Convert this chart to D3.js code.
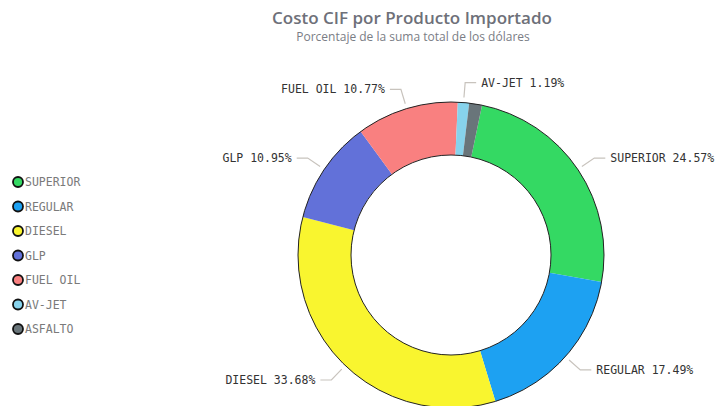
<!DOCTYPE html>
<html>
<head>
<meta charset="utf-8">
<script src="https://cdn.jsdelivr.net/npm/d3@7"></script>
<style>
  body { margin: 0; background: #fff; }
</style>
</head>
<body>
<svg id="chart" width="716" height="406"></svg>
<script>
// values
var products = ["SUPERIOR", "REGULAR", "DIESEL", "GLP", "FUEL OIL", "AV-JET", "ASFALTO"];
var percents = [24.57, 17.49, 33.68, 10.95, 10.77, 1.19, 1.35];
var colors = ["#34d963", "#1da1f2", "#f9f52f", "#6271d9", "#f98080", "#87d3ec", "#69757a"];
var hiddenLabels = ["ASFALTO"];

var svg = d3.select("#chart");
var cx = 451, cy = 255;
var outerR = 153, innerR = 100;
var startA = 11.7 * Math.PI / 180;

var data = products.map(function(p, i) {
    return { name: p, value: percents[i], color: colors[i] };
});

var pie = d3.pie()
    .sort(null)
    .value(function(d) { return d.value; })
    .startAngle(startA)
    .endAngle(startA + 2 * Math.PI);

var arc = d3.arc().innerRadius(innerR).outerRadius(outerR);

// title
svg.append("text")
    .attr("x", 412)
    .attr("y", 24)
    .attr("text-anchor", "middle")
    .attr("font-family", "'Open Sans', sans-serif")
    .attr("font-size", "17px")
    .attr("font-weight", "600")
    .attr("fill", "#6e7079")
    .text("Costo CIF por Producto Importado");
svg.append("text")
    .attr("x", 413)
    .attr("y", 41)
    .attr("text-anchor", "middle")
    .attr("font-family", "'Open Sans', sans-serif")
    .attr("font-size", "12px")
    .attr("fill", "#7a7d85")
    .text("Porcentaje de la suma total de los dólares");

// donut
var g = svg.append("g").attr("transform", "translate(" + cx + "," + cy + ")");
var arcs = pie(data);
g.selectAll("path").data(arcs).enter()
    .append("path")
    .attr("d", arc)
    .attr("fill", function(d) { return d.data.color; });
// dark rims
g.append("circle").attr("r", outerR).attr("fill", "none").attr("stroke", "#222").attr("stroke-width", 1);
g.append("circle").attr("r", innerR).attr("fill", "none").attr("stroke", "#222").attr("stroke-width", 1);

// labels with leader lines
arcs.forEach(function(d) {
    if (hiddenLabels.indexOf(d.data.name) >= 0) return;
    var mid = (d.startAngle + d.endAngle) / 2;
    var s = Math.sin(mid), c = -Math.cos(mid);
    var p1 = [s * 158, c * 158];
    var p2 = [s * 173, c * 173];
    var dir = s >= 0 ? 1 : -1;
    var p3 = [p2[0] + dir * 11, p2[1]];
    g.append("polyline")
        .attr("points", [p1, p2, p3].map(function(p) { return p.join(","); }).join(" "))
        .attr("fill", "none")
        .attr("stroke", "#c8c3bd")
        .attr("stroke-width", 1.2);
    g.append("text")
        .attr("x", p3[0] + dir * 5)
        .attr("y", p3[1])
        .attr("dy", "0.35em")
        .attr("text-anchor", dir > 0 ? "start" : "end")
        .attr("font-family", "'DejaVu Sans Mono', monospace")
        .attr("font-size", "11.5px")
        .attr("fill", "#333")
        .text(d.data.name + " " + d.data.value.toFixed(2) + "%");
});

// legend
var legend = svg.append("g");
var ly = d3.scalePoint().domain(products).range([182, 329]);
legend.selectAll("circle").data(data).enter()
    .append("circle")
    .attr("cx", 18)
    .attr("cy", function(d) { return ly(d.name); })
    .attr("r", 5)
    .attr("fill", function(d) { return d.color; })
    .attr("stroke", "#111")
    .attr("stroke-width", 1.8);
legend.selectAll("text").data(data).enter()
    .append("text")
    .attr("x", 25)
    .attr("y", function(d) { return ly(d.name); })
    .attr("dy", "0.35em")
    .attr("font-family", "'DejaVu Sans Mono', monospace")
    .attr("font-size", "11.5px")
    .attr("fill", "#7a7a7a")
    .text(function(d) { return d.name; });
</script>
</body>
</html>
